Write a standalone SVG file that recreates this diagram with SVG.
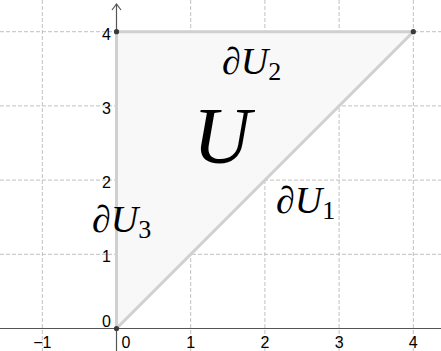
<svg xmlns="http://www.w3.org/2000/svg" width="441" height="351" viewBox="0 0 441 351">
<style>
.grid{stroke:#c0c0c0;stroke-width:1;stroke-dasharray:4,2;fill:none}
.axis{stroke:#555;stroke-width:1.2;fill:none}
.tick{font-family:"Liberation Sans",Arial,sans-serif;font-size:16px;fill:#000}
.edge{stroke:#d0d0d0;stroke-width:3;fill:none;stroke-linecap:round}
.pt{fill:#3a3a3a}
.math{font-family:"Liberation Serif","Times New Roman",serif;font-style:italic;fill:#000}
.sub{font-style:normal}
</style>
<rect width="441" height="351" fill="#fff"/>
<g id="grid">
<line class="grid" x1="42.3" y1="0" x2="42.3" y2="351"/>
<line class="grid" x1="190.7" y1="0" x2="190.7" y2="351"/>
<line class="grid" x1="264.9" y1="0" x2="264.9" y2="351"/>
<line class="grid" x1="339.1" y1="0" x2="339.1" y2="351"/>
<line class="grid" x1="413.3" y1="0" x2="413.3" y2="351"/>
<line class="grid" x1="0" y1="254.3" x2="441" y2="254.3"/>
<line class="grid" x1="0" y1="180.1" x2="441" y2="180.1"/>
<line class="grid" x1="0" y1="105.9" x2="441" y2="105.9"/>
<line class="grid" x1="0" y1="31.7" x2="441" y2="31.7"/>
</g>
<g id="region-U">
<polygon points="116.5,328.5 116.5,31.7 413.3,31.7" fill="#f8f8f8" stroke="none"/>
</g>
<g id="axes">
<line class="axis" x1="0" y1="328.5" x2="441" y2="328.5"/>
<line class="axis" x1="116.5" y1="351" x2="116.5" y2="4" stroke="#222"/>
<polyline class="axis" points="112,10 116.5,4 121,10" stroke="#222"/>
</g>
<g id="connectors">
<line id="dU1" class="edge" x1="116.5" y1="328.5" x2="413.3" y2="31.7"/>
<line id="dU2" class="edge" x1="116.5" y1="31.7" x2="413.3" y2="31.7"/>
<line id="dU3" class="edge" x1="116.5" y1="328.5" x2="116.5" y2="31.7"/>
</g>
<g id="points">
<circle class="pt" cx="116.5" cy="328.5" r="2.6"/>
<circle class="pt" cx="116.5" cy="31.7" r="2.6"/>
<circle class="pt" cx="413.3" cy="31.7" r="2.6"/>
</g>
<g id="ticks">
<text class="tick" x="111" y="39.5" text-anchor="end">4</text>
<text class="tick" x="111" y="113.5" text-anchor="end">3</text>
<text class="tick" x="111" y="187.5" text-anchor="end">2</text>
<text class="tick" x="111" y="261.5" text-anchor="end">1</text>
<text class="tick" x="111" y="327" text-anchor="end">0</text>
<text class="tick" x="42.3" y="348" text-anchor="middle">−1</text>
<text class="tick" x="121.5" y="348">0</text>
<text class="tick" x="190.7" y="348" text-anchor="middle">1</text>
<text class="tick" x="264.9" y="348" text-anchor="middle">2</text>
<text class="tick" x="339.1" y="348" text-anchor="middle">3</text>
<text class="tick" x="413.3" y="348" text-anchor="middle">4</text>
</g>
<g id="label-U">
<text class="math" x="193" y="163" font-size="80">U</text>
</g>
<g id="label-dU2">
<text class="math" x="222" y="74" font-size="38">∂U<tspan class="sub" font-size="26" dy="6">2</tspan></text>
</g>
<g id="label-dU3">
<text class="math" x="92" y="232" font-size="38">∂U<tspan class="sub" font-size="26" dy="6">3</tspan></text>
</g>
<g id="label-dU1">
<text class="math" x="276" y="213" font-size="38">∂U<tspan class="sub" font-size="26" dy="6">1</tspan></text>
</g>
</svg>
